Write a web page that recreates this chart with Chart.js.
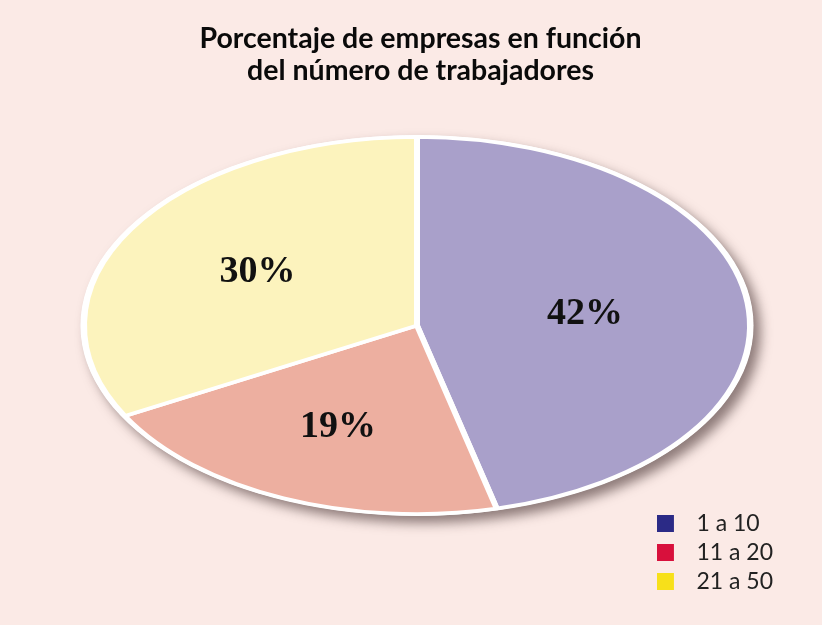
<!DOCTYPE html>
<html><head><meta charset="utf-8">
<script src="https://cdn.jsdelivr.net/npm/chart.js@4.4.0/dist/chart.umd.min.js"></script>
<style>
html,body{margin:0;padding:0;background:#FBEAE6;}
#wrap{width:822px;height:625px;position:relative;background:#FBEAE6;}
</style>
</head><body><div id="wrap"><canvas id="c" width="822" height="625"></canvas></div>
<script>
const titleLines = ['Porcentaje de empresas en función', 'del número de trabajadores'];
const categories = ['1 a 10', '11 a 20', '21 a 50'];
const values = [42, 19, 30];
const sliceColors = ['#A9A0CA', '#EDAFA0', '#FCF3BD'];
const legendColors = ['#2B2A86', '#D8103C', '#F7E01A'];

// target ellipse geometry (layout only)
const ELLIPSE = {cx: 417, cy: 325.5, rx: 333, ry: 188.5};

function ellipseTransform(chart) {
  const arc = chart.getDatasetMeta(0).data[0];
  const r = arc.outerRadius;
  return {x: arc.x, y: arc.y, sx: ELLIPSE.rx / r, sy: ELLIPSE.ry / r, r};
}

// legend icon: square with extra gap on its right
function legendIcon(color) {
  const c = document.createElement('canvas');
  c.width = 28; c.height = 17;
  const g = c.getContext('2d');
  g.fillStyle = color;
  g.fillRect(0, 0, 17, 17);
  return c;
}

const ellipsePlugin = {
  id: 'ellipse',
  beforeDatasetsDraw(chart) {
    const ctx = chart.ctx;
    const t = ellipseTransform(chart);
    ctx.save();
    ctx.translate(ELLIPSE.cx, ELLIPSE.cy);
    ctx.scale(t.sx, t.sy);
    ctx.translate(-t.x, -t.y);
    ctx.save();
    ctx.shadowColor = 'rgba(70,50,50,0.6)';
    ctx.shadowBlur = 12;
    ctx.shadowOffsetX = 7;
    ctx.shadowOffsetY = 7;
    ctx.fillStyle = '#ffffff';
    ctx.beginPath();
    ctx.arc(t.x, t.y, t.r + 2 / t.sy, 0, Math.PI * 2);
    ctx.fill();
    ctx.restore();
  },
  afterDatasetsDraw(chart) {
    const ctx = chart.ctx;
    ctx.restore();
    const t = ellipseTransform(chart);
    const meta = chart.getDatasetMeta(0);
    ctx.save();
    ctx.font = 'bold 38px "Liberation Serif", "Times New Roman", serif';
    ctx.fillStyle = '#111111';
    ctx.textAlign = 'center';
    ctx.textBaseline = 'middle';
    meta.data.forEach((arc, i) => {
      const theta = arc.endAngle - arc.startAngle;
      const centroid = 4 * Math.sin(theta / 2) / (3 * theta);
      const k = 0.28 + 0.5 * centroid;
      const a = (arc.startAngle + arc.endAngle) / 2;
      const px = Math.cos(a) * arc.outerRadius * k;
      const py = Math.sin(a) * arc.outerRadius * k;
      ctx.fillText(values[i] + '%', ELLIPSE.cx + px * t.sx, ELLIPSE.cy + py * t.sy);
    });
    ctx.restore();
  }
};

new Chart(document.getElementById('c'), {
  type: 'pie',
  data: {
    labels: categories,
    datasets: [{
      data: values,
      backgroundColor: sliceColors,
      borderColor: '#ffffff',
      borderWidth: 4.5,
      clip: false
    }]
  },
  options: {
    responsive: false,
    animation: false,
    layout: {padding: {left: 58, right: 39, bottom: 26, top: 0}},
    plugins: {
      tooltip: {enabled: false},
      title: {
        display: true,
        text: titleLines,
        color: '#0a0a0a',
        font: {family: 'Lato', weight: 'bold', size: 28.5, lineHeight: 1.12},
        padding: {top: 23, bottom: 10}
      },
      legend: {
        position: 'right',
        align: 'end',
        labels: {
          usePointStyle: true,
          pointStyleWidth: 28,
          boxHeight: 23,
          padding: 6,
          color: '#222222',
          font: {family: 'Lato', size: 23},
          generateLabels() {
            return categories.map((c, i) => ({
              text: c, fillStyle: legendColors[i], strokeStyle: legendColors[i],
              pointStyle: legendIcon(legendColors[i]),
              lineWidth: 0, hidden: false, index: i, fontColor: '#222222'
            }));
          }
        }
      }
    }
  },
  plugins: [ellipsePlugin]
});
</script>
</body></html>
